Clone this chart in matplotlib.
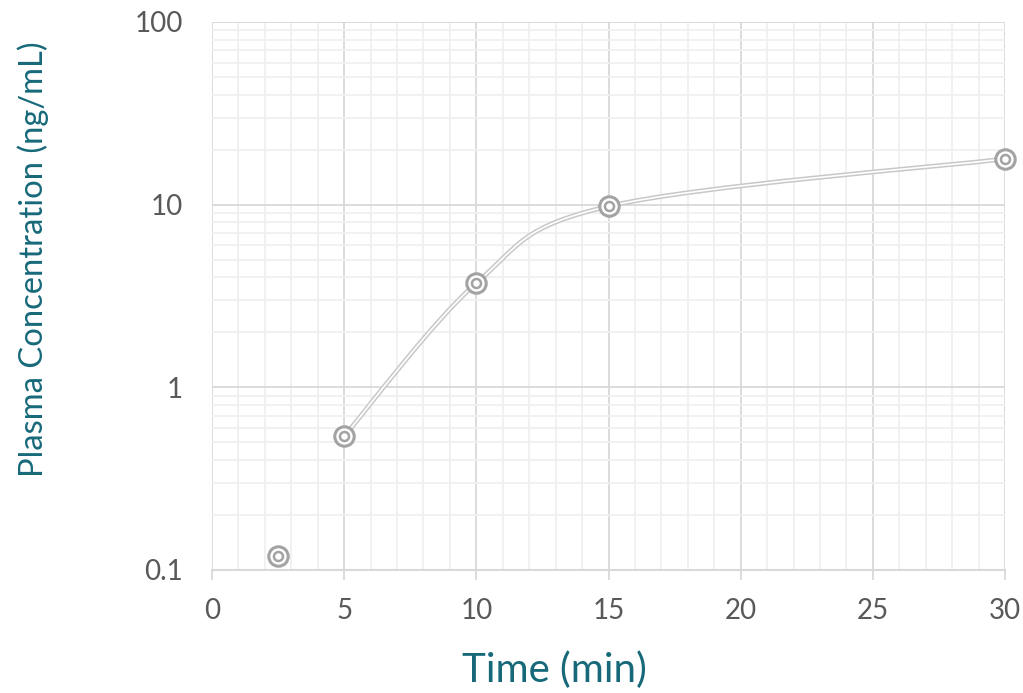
import numpy as np
import matplotlib
matplotlib.use('Agg')
import matplotlib.pyplot as plt
from matplotlib.path import Path
from matplotlib.patches import PathPatch
from matplotlib.ticker import FixedLocator, NullFormatter, FuncFormatter

plt.rcParams['font.family'] = ['Lato', 'DejaVu Sans']

# data
time_min = [2.5, 5, 10, 15, 30]
conc = [0.12, 0.54, 3.72, 9.8, 17.8]
# the smoothed line only joins the points from 5 min on
line_time = time_min[1:]
line_conc = conc[1:]

x_ticks = [0, 5, 10, 15, 20, 25, 30]
y_ticks = [0.1, 1, 10, 100]
y_tick_labels = ['0.1', '1', '10', '100']

text_grey = '#595959'
teal = '#17697a'
major_grid = '#d9d9d9'
minor_grid = '#f0f0f0'
line_grey = '#c8c8c8'
marker_grey = '#a3a3a3'

fig = plt.figure(figsize=(10.23, 6.93), dpi=100)
ax = fig.add_axes([212 / 1023, 1 - 570 / 693, 793 / 1023, 548 / 693])

ax.set_yscale('log')
ax.set_xlim(0, 30)
ax.set_ylim(0.1, 100)

# grid
ax.xaxis.set_major_locator(FixedLocator(x_ticks))
ax.xaxis.set_minor_locator(FixedLocator([v for v in range(0, 31) if v % 5]))
ax.yaxis.set_major_locator(FixedLocator(y_ticks))
minor_y = [m * 10.0 ** e for e in (-1, 0, 1) for m in range(2, 10)]
ax.yaxis.set_minor_locator(FixedLocator(minor_y))
ax.yaxis.set_minor_formatter(NullFormatter())
ax.yaxis.set_major_formatter(FuncFormatter(lambda v, p: y_tick_labels[y_ticks.index(v)] if v in y_ticks else ''))
ax.grid(which='major', color=major_grid, lw=1.3)
ax.grid(which='minor', color=minor_grid, lw=1.3)
ax.set_axisbelow(True)

for s in ['top', 'right', 'left']:
    ax.spines[s].set_visible(False)
ax.spines['bottom'].set_color(major_grid)
ax.spines['bottom'].set_linewidth(1.5)

ax.tick_params(axis='x', which='major', length=7, width=1.3, color=major_grid,
               labelcolor=text_grey, labelsize=20, pad=13)
ax.tick_params(axis='y', which='major', length=0, labelcolor=text_grey, labelsize=20, pad=21)
ax.tick_params(which='minor', length=0)

# smoothed line (Bezier through the points, built in x / log10(y) space)
px = np.array(line_time, dtype=float)
py = np.log10(line_conc)
n = len(px)
verts = [(px[0], py[0])]
codes = [Path.MOVETO]
for i in range(n - 1):
    i0 = max(i - 1, 0)
    i3 = min(i + 2, n - 1)
    c1 = (px[i] + (px[i + 1] - px[i0]) / 6, py[i] + (py[i + 1] - py[i0]) / 6)
    c2 = (px[i + 1] - (px[i3] - px[i]) / 6, py[i + 1] - (py[i3] - py[i]) / 6)
    verts += [c1, c2, (px[i + 1], py[i + 1])]
    codes += [Path.CURVE4] * 3
verts = [(vx, 10 ** vy) for vx, vy in verts]
curve = Path(verts, codes)
ax.add_patch(PathPatch(curve, fc='none', ec=line_grey, lw=3.4, capstyle='butt', zorder=3))
ax.add_patch(PathPatch(curve, fc='none', ec='white', lw=1.2, capstyle='butt', zorder=3))

# double-ring markers
ax.plot(time_min, conc, 'o', ms=14, mfc='white', mec=marker_grey, mew=2.2, zorder=4, clip_on=False)
ax.plot(time_min, conc, 'o', ms=6.5, mfc='white', mec=marker_grey, mew=1.8, zorder=5, clip_on=False)

ax.set_xlabel('Time (min)', color=teal, fontsize=29, va='center')
ax.xaxis.set_label_coords(0.432, -0.183)
ax.set_ylabel('Plasma Concentration (ng/mL)', color=teal, fontsize=23.6, va='center')
ax.yaxis.set_label_coords(-0.226, 0.5675)

fig.savefig('out.png', dpi=100)
